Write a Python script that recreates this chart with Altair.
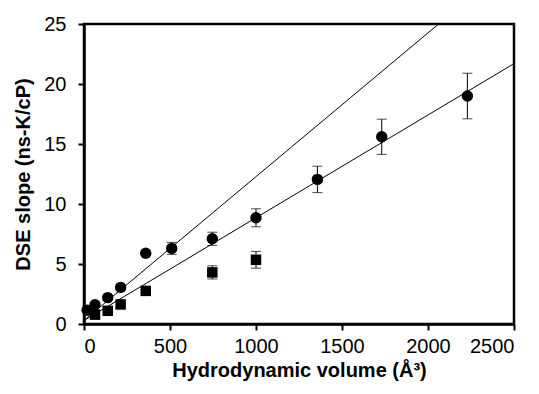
import altair as alt
import pandas as pd

# circles series
circ_x = [18, 64, 138, 213, 359, 510, 746, 1000, 1357, 1731, 2229]
circ_y = [1.15, 1.6, 2.2, 3.05, 5.9, 6.3, 7.1, 8.85, 12.05, 15.6, 19.0]
circ_err = [0, 0, 0, 0, 0, 0.5, 0.55, 0.75, 1.1, 1.47, 1.9]

# squares series
sq_x = [64, 138, 213, 359, 746, 1000]
sq_y = [0.78, 1.1, 1.63, 2.76, 4.3, 5.35]
sq_err = [0, 0, 0, 0, 0.55, 0.7]

# fit lines (endpoints)
fit1_x = [0, 2500]
fit1_y = [0.29, 21.7]
fit2_x = [0, 2500]
fit2_y = [0.3, 30.25]

circ = pd.DataFrame({"x": circ_x, "y": circ_y, "err": circ_err})
sq = pd.DataFrame({"x": sq_x, "y": sq_y, "err": sq_err})
fits = pd.concat([
    pd.DataFrame({"x": fit1_x, "y": fit1_y, "fit": "a"}),
    pd.DataFrame({"x": fit2_x, "y": fit2_y, "fit": "b"}),
])

FONT = "Liberation Sans"

xscale = alt.Scale(domain=[0, 2500], nice=False, zero=True)
yscale = alt.Scale(domain=[0, 25], nice=False)

xenc = alt.X("x:Q", scale=xscale, title="Hydrodynamic volume (Å³)",
             axis=alt.Axis(values=[0, 500, 1000, 1500, 2000, 2500], format="d"))
yenc = alt.Y("y:Q", scale=yscale, title="DSE slope (ns-K/cP)",
             axis=alt.Axis(values=[0, 5, 10, 15, 20, 25], format="d"))

lines = alt.Chart(fits).mark_line(color="black", strokeWidth=1, clip=True).encode(
    x=xenc, y=yenc, detail="fit:N")

def errbars(df):
    base = alt.Chart(df).transform_filter("datum.err > 0").transform_calculate(
        lo="datum.y - datum.err", hi="datum.y + datum.err")
    rule = base.mark_rule(color="black", strokeWidth=1).encode(
        x="x:Q", y="lo:Q", y2="hi:Q")
    cap_hi = base.mark_tick(color="black", thickness=1, size=10, orient="horizontal").encode(
        x="x:Q", y="hi:Q")
    cap_lo = base.mark_tick(color="black", thickness=1, size=10, orient="horizontal").encode(
        x="x:Q", y="lo:Q")
    return rule + cap_hi + cap_lo

circ_pts = alt.Chart(circ).mark_point(shape="circle", filled=True, color="black",
                                      opacity=1, size=130).encode(x=xenc, y=yenc)
sq_pts = alt.Chart(sq).mark_point(shape="square", filled=True, color="black",
                                  opacity=1, size=110).encode(x=xenc, y=yenc)

chart = alt.layer(lines, errbars(circ), errbars(sq), circ_pts, sq_pts).properties(
    width=430, height=300,
    autosize=alt.AutoSizeParams(type="none"),
    padding={"left": 84, "top": 24, "right": 25, "bottom": 70},
).configure_view(
    stroke="black", strokeWidth=2.5
).configure_axis(
    grid=False,
    domainColor="black", domainWidth=2.5,
    tickColor="black", tickWidth=2, tickSize=6,
    labelFont=FONT, labelFontSize=20, labelColor="black",
    titleFont=FONT, titleFontSize=20, titleFontWeight="bold", titleColor="black",
).configure_axisX(
    labelPadding=6, titlePadding=4,
).configure_axisY(
    labelPadding=12, titlePadding=10,
)

chart.save("out.html", embed_options={"renderer": "svg", "actions": False})
